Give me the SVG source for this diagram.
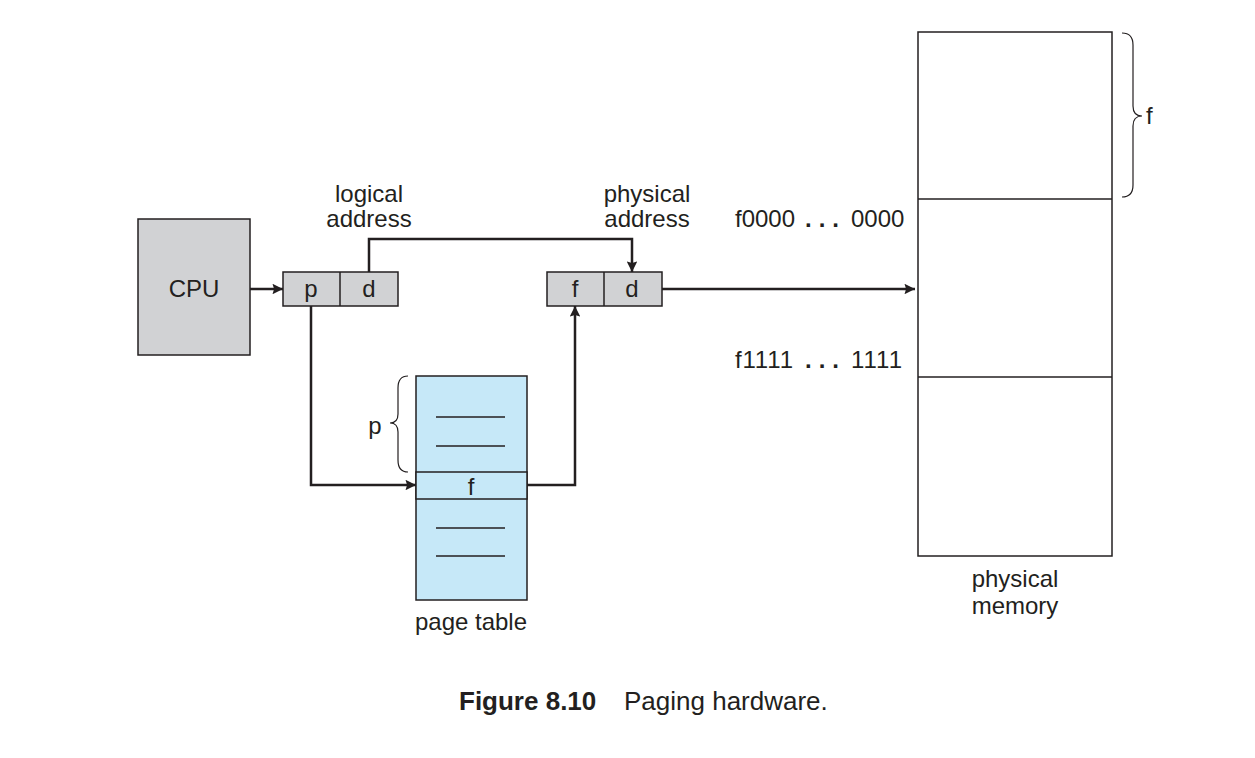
<svg xmlns="http://www.w3.org/2000/svg" width="1255" height="758" viewBox="0 0 1255 758">
<defs>
<style>
.t{font-family:"Liberation Sans",Arial,sans-serif;font-size:24px;fill:#231f20}
.c{text-anchor:middle}
.box{stroke:#231f20;stroke-width:1.5}
.conn{fill:none;stroke:#231f20;stroke-width:2.5}
.thin{fill:none;stroke:#231f20;stroke-width:1.3}
.brace{fill:none;stroke:#231f20;stroke-width:1.2}
</style>
<marker id="ah" viewBox="0 0 10 10" refX="10" refY="5" markerWidth="5" markerHeight="4.2" markerUnits="strokeWidth" orient="auto">
<path d="M0,0 L10,5 L0,10 L1.5,5 z" fill="#231f20"/>
</marker>
</defs>
<rect width="1255" height="758" fill="#ffffff"/>

<g id="cpu">
<rect class="box" x="138" y="219" width="112" height="136" fill="#d1d2d4"/>
<text class="t c" x="194" y="297">CPU</text>
</g>

<g id="logical-address">
<rect class="box" x="283" y="272" width="115" height="34" fill="#d1d2d4"/>
<line class="box" x1="340" y1="272" x2="340" y2="306"/>
<text class="t c" x="311" y="297">p</text>
<text class="t c" x="369" y="297">d</text>
<text class="t c" x="369" y="202">logical</text>
<text class="t c" x="369" y="227">address</text>
</g>

<g id="physical-address">
<rect class="box" x="547" y="272" width="115" height="34" fill="#d1d2d4"/>
<line class="box" x1="604" y1="272" x2="604" y2="306"/>
<text class="t c" x="575" y="297">f</text>
<text class="t c" x="632" y="297">d</text>
<text class="t c" x="647" y="202">physical</text>
<text class="t c" x="647" y="227">address</text>
</g>

<g id="page-table">
<rect class="box" x="416" y="376" width="111" height="224" fill="#c6e8f8"/>
<rect class="box" x="416" y="472" width="111" height="27" fill="#c6e8f8"/>
<line class="thin" x1="436" y1="417" x2="505" y2="417"/>
<line class="thin" x1="436" y1="446" x2="505" y2="446"/>
<line class="thin" x1="436" y1="528" x2="505" y2="528"/>
<line class="thin" x1="436" y1="556" x2="505" y2="556"/>
<text class="t c" x="471" y="495">f</text>
<text class="t c" x="471" y="630">page table</text>
<path class="brace" d="M408,376 Q398,376 398,388 L398,414 Q398,423 390,423 Q398,423 398,432 L398,460 Q398,472 408,472"/>
<text class="t c" x="375" y="434">p</text>
</g>

<g id="physical-memory">
<rect class="box" x="918" y="32" width="194" height="524" fill="#ffffff"/>
<line class="box" x1="918" y1="199" x2="1112" y2="199"/>
<line class="box" x1="918" y1="377" x2="1112" y2="377"/>
<path class="brace" d="M1122,33 Q1133,33 1133,45 L1133,106 Q1133,116 1142,116 Q1133,116 1133,126 L1133,185 Q1133,197 1122,197"/>
<text class="t" x="1146" y="124">f</text>
<text class="t" x="735" y="227">f0000</text>
<text class="t" x="805" y="227" font-weight="bold" letter-spacing="7">...</text>
<text class="t" x="851" y="227">0000</text>
<text class="t" x="735" y="368" textLength="58" lengthAdjust="spacing">f1111</text>
<text class="t" x="805" y="368" font-weight="bold" letter-spacing="7">...</text>
<text class="t" x="851" y="368" textLength="51" lengthAdjust="spacing">1111</text>
<text class="t c" x="1015" y="587">physical</text>
<text class="t c" x="1015" y="614">memory</text>
</g>

<g id="connectors">
<line class="conn" x1="250" y1="289" x2="283" y2="289" marker-end="url(#ah)"/>
<polyline class="conn" points="369,272 369,239 632,239 632,272" marker-end="url(#ah)"/>
<line class="conn" x1="662" y1="289" x2="915" y2="289" marker-end="url(#ah)"/>
<polyline class="conn" points="311,306 311,485 416,485" marker-end="url(#ah)"/>
<polyline class="conn" points="527,485 575,485 575,306" marker-end="url(#ah)"/>
</g>

<g id="caption">
<text class="t" x="459" y="710" font-weight="bold" style="font-size:26px">Figure 8.10</text>
<text class="t" x="624" y="710" style="font-size:26px">Paging hardware.</text>
</g>
</svg>
